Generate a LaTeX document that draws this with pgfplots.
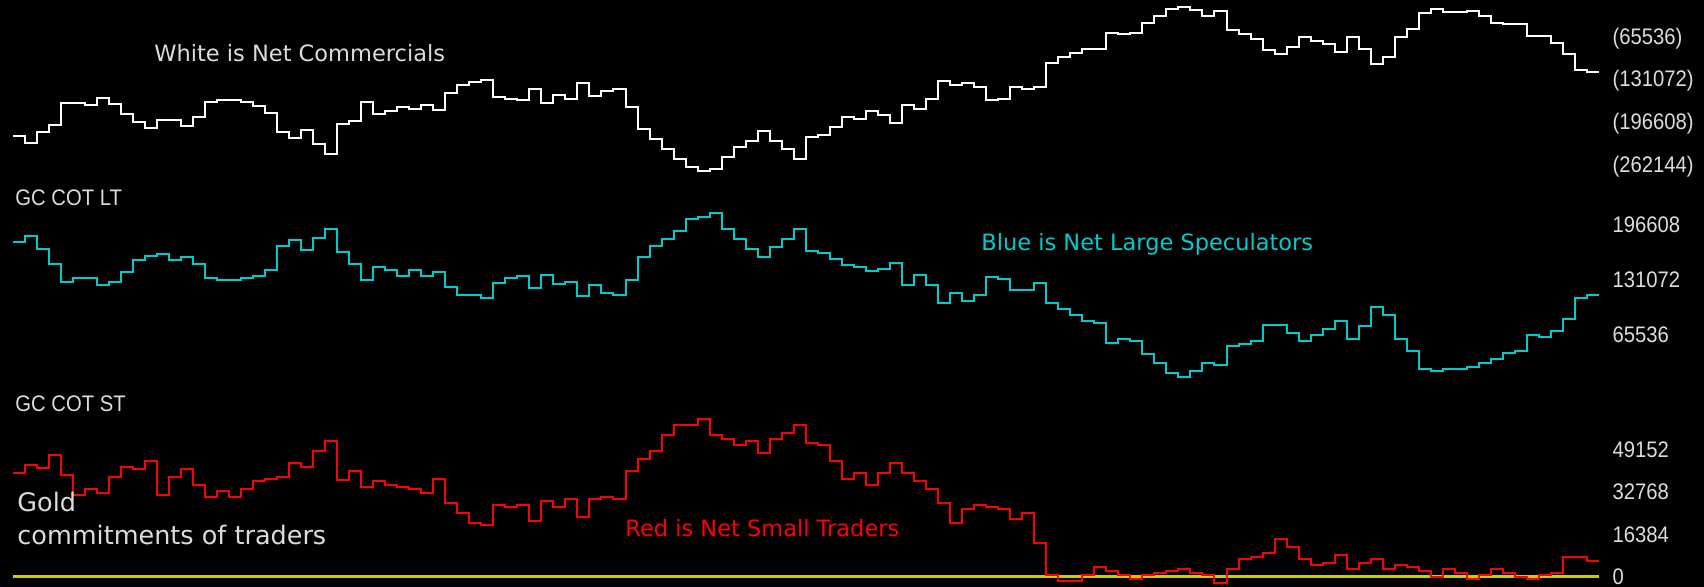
\documentclass[border=0pt]{standalone}
\usepackage{pgfplots}
\usepackage{pgfplotstable}
\pgfplotsset{compat=1.18}
\usepackage{fontspec}
\setmainfont{DejaVu Sans}
\newfontfamily\lab[FakeStretch=0.9]{Liberation Sans}
\definecolor{txtgray}{HTML}{DCDCDC}
\definecolor{cotcyan}{HTML}{00CCCC}
\definecolor{cotred}{HTML}{FF0000}
\definecolor{cotyellow}{HTML}{CCCC00}

\pgfplotstableread{
x w b r
0 -215134 176355 40355
1 -225342 183504 43458
2 -209009 168411 42165
3 -197781 150140 47337
4 -164094 128691 39579
5 -164094 133457 31821
6 -167157 133457 34148
7 -156949 125513 32597
8 -166136 128691 38803
9 -181448 140607 42682
10 -193697 154906 41906
11 -202885 159672 45009
12 -190635 162056 31821
13 -190635 154906 38803
14 -199822 158878 41906
15 -185531 150140 35700
16 -163073 133457 31045
17 -160011 131074 33372
18 -160011 131074 31045
19 -163073 133457 34148
20 -169198 135840 37251
21 -179406 142990 38027
22 -209009 171588 38803
23 -218197 178738 44234
24 -205947 166822 42682
25 -227384 181121 48888
26 -242696 192243 52767
27 -196760 164439 37510
28 -191656 150140 41130
29 -163073 131074 34924
30 -181448 146962 37251
31 -176344 142990 35700
32 -170219 135840 34924
33 -173281 142990 34148
34 -167157 135840 32597
35 -175323 140607 38027
36 -148782 123130 28718
37 -136533 113597 24839
38 -132449 113597 20960
39 -129387 109625 20184
40 -154907 127896 27942
41 -157969 133457 27166
42 -160011 135840 27942
43 -142657 121541 21735
44 -164094 137429 29493
45 -151845 126308 27166
46 -157969 128691 30269
47 -133470 111611 23287
48 -153886 125513 30269
49 -145720 115980 31045
50 -142657 113597 30269
51 -170219 131074 41130
52 -203905 158878 45785
53 -219217 171588 48888
54 -234529 180327 55095
55 -249841 189860 58974
56 -262091 204159 58974
57 -268216 206542 61301
58 -265153 211308 55095
59 -246779 192243 53543
60 -231467 180327 51216
61 -222280 168411 52767
62 -206968 158878 48113
63 -222280 170794 53543
64 -234529 180327 55871
65 -249841 192243 58974
66 -216155 166028 51992
67 -213093 163644 51216
68 -200843 156495 45009
69 -185531 149345 38027
70 -188593 146962 40355
71 -176344 142196 35700
72 -182469 144579 40355
73 -194718 151728 44234
74 -167157 125513 40355
75 -173281 137429 37251
76 -157969 125513 34148
77 -130408 104064 28718
78 -136533 115980 20960
79 -133470 106448 26390
80 -139595 113597 27942
81 -160011 135046 27166
82 -157969 132663 26390
83 -139595 119158 22511
84 -142657 119158 24839
85 -139595 127896 13202
86 -102846 104064 789
87 -93659 96915 -1539
88 -87534 89765 -1539
89 -81409 82616 789
90 -81409 80232 3892
91 -56910 56400 2340
92 -58952 61167 789
93 -56910 58784 -763
94 -41598 42498 789
95 -31900 32568 1565
96 -20161 20652 2340
97 -17099 15886 3116
98 -22203 23036 1565
99 -31390 32568 789
100 -23224 29391 -2314
101 -52827 52428 3116
102 -58952 54812 6995
103 -66097 58784 7771
104 -83451 77849 9323
105 -89576 77849 14753
106 -78347 68316 11650
107 -63035 58784 6995
108 -69160 65933 4668
109 -74264 73083 5444
110 -86513 82616 8547
111 -63035 61167 3116
112 -81409 76260 5444
113 -104888 99298 6995
114 -93659 89765 3116
115 -63035 61167 4668
116 -50785 46868 3892
117 -26286 25419 2340
118 -20161 23036 13
119 -25265 25419 3116
120 -25265 25419 1565
121 -23224 27802 -763
122 -31390 32568 789
123 -41598 37335 3116
124 -43640 44484 1565
125 -43640 46868 13
126 -62014 65933 -763
127 -62014 63550 789
128 -72222 70700 1565
129 -89576 84999 7771
130 -114075 109625 7771
131 -117137 113597 6219
132 -117137 113597 6219
}\cotdata

\pgfplotsset{
  cotaxis/.style={
    scale only axis, width=793.3bp, anchor=south west,
    xmin=0, xmax=132, xtick=\empty,
    scaled y ticks=false, scaled x ticks=false,
    axis line style={draw=none}, major tick length=0pt,
    ytick style={draw=none},
    yticklabel pos=right,
    yticklabel style={anchor=west, inner sep=0pt, xshift=6.5bp,
      font=\lab\fontsize{11.25bp}{12bp}\selectfont, text=txtgray},
    clip=false,
  },
}

\begin{document}
\begin{tikzpicture}
\useasboundingbox (0,0) rectangle (852bp,-293.5bp);
\fill[black] (0,0) rectangle (852bp,-293.5bp);

% White: Net Commercials
\begin{axis}[cotaxis, at={(6.25bp,-90bp)}, height=90bp,
  ymin=-282510, ymax=-6890,
  ytick={-262144,-196608,-131072,-65536},
  yticklabels={(262144),(196608),(131072),(65536)}]
\addplot[const plot, white, line width=1bp, line join=miter] table[x=x, y=w]{\cotdata};
\end{axis}

% Cyan: Net Large Speculators
\begin{axis}[cotaxis, at={(6.25bp,-200bp)}, height=110bp,
  ymin=-11916, ymax=250228,
  ytick={65536,131072,196608},
  yticklabels={65536,131072,196608}]
\addplot[const plot, cotcyan, line width=1bp, line join=miter] table[x=x, y=b]{\cotdata};
\end{axis}

% Red: Net Small Traders
\begin{axis}[cotaxis, at={(6.25bp,-293.5bp)}, height=93.5bp,
  ymin=-3995, ymax=68542,
  ytick={0,16384,32768,49152},
  yticklabels={0,16384,32768,49152}]
\addplot[cotyellow, line width=1.3bp] coordinates {(0,0) (132,0)};
\addplot[const plot, cotred, line width=1bp, line join=miter] table[x=x, y=r]{\cotdata};
\end{axis}

\node[anchor=base west, inner sep=0pt, text=txtgray, font=\fontsize{11.25bp}{13bp}\selectfont] at (77bp,-30.85bp) {White is Net Commercials};
\node[anchor=base west, inner sep=0pt, text=txtgray, font=\lab\fontsize{11.25bp}{13bp}\selectfont] at (7.5bp,-102.5bp) {GC COT LT};
\node[anchor=base west, inner sep=0pt, text=cotcyan, font=\fontsize{11.25bp}{13bp}\selectfont] at (490.5bp,-125bp) {Blue is Net Large Speculators};
\node[anchor=base west, inner sep=0pt, text=txtgray, font=\lab\fontsize{11.25bp}{13bp}\selectfont] at (7.5bp,-205.8bp) {GC COT ST};
\node[anchor=base west, inner sep=0pt, text=txtgray, font=\fontsize{12.75bp}{14bp}\selectfont] at (8.5bp,-255.85bp) {Gold};
\node[anchor=base west, inner sep=0pt, text=txtgray, font=\fontsize{12.75bp}{14bp}\selectfont] at (8.5bp,-272bp) {commitments of traders};
\node[anchor=base west, inner sep=0pt, text=cotred, font=\fontsize{11.25bp}{13bp}\selectfont] at (312.5bp,-268bp) {Red is Net Small Traders};
\end{tikzpicture}
\end{document}
